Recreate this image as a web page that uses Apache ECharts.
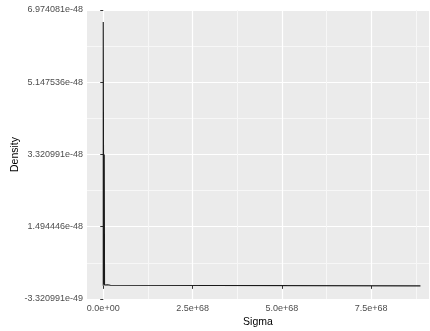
<!DOCTYPE html>
<html>
<head>
<meta charset="utf-8">
<script src="https://cdn.jsdelivr.net/npm/echarts@6/dist/echarts.min.js"></script>
<style>html,body{margin:0;padding:0;background:#fff}#c{width:430px;height:331px}</style>
</head>
<body>
<div id="c"></div>
<script>
// Data
const sigma   = [0, 0, 1.4e66, 2.8e66, 3.6e66, 6e66, 8e66, 1.2e67, 1.5e67, 2.0e67, 2.5e67, 8.88e68];
const density = [0, 6.67e-48, 5e-50, 3.32e-48, 2e-50, 2e-50, 0, 3e-50, 0, 1.5e-50, 0, 0];

const yTicks = [-3.320991e-49, 1.494446e-48, 3.320991e-48, 5.147536e-48, 6.974081e-48];
const yTickLabels = ['-3.320991e-49', '1.494446e-48', '3.320991e-48', '5.147536e-48', '6.974081e-48'];
const yMinor = [5.81174e-49, 2.4077185e-48, 4.2342635e-48, 6.0608085e-48];
const xTicks = [0, 2.5e68, 5.0e68, 7.5e68];
const xTickLabels = ['0.0e+00', '2.5e+68', '5.0e+68', '7.5e+68'];
const xMinor = [1.25e68, 3.75e68, 6.25e68, 8.75e68];

const xMin = -4.55e67, xMax = 9.12e68;
const yMin = -3.320991e-49, yMax = 6.974081e-48;

function labelFor(ticks, labels) {
  return function (v) {
    let best = 0, bd = Infinity;
    ticks.forEach((t, i) => { const d = Math.abs(t - v); if (d < bd) { bd = d; best = i; } });
    return labels[best];
  };
}

const font = 'Liberation Sans, Arial, sans-serif';
const chart = echarts.init(document.getElementById('c'), null, {renderer: 'canvas'});
chart.setOption({
  animation: false,
  backgroundColor: '#ffffff',
  grid: {left: 87, right: 1, top: 10, bottom: 32, show: true, backgroundColor: '#EBEBEB', borderWidth: 0,
         containLabel: false, outerBoundsMode: 'none'},
  xAxis: [
    {
      type: 'value', min: xMin, max: xMax, position: 'bottom',
      axisLine: {show: false},
      axisTick: {show: true, length: 3, lineStyle: {color: '#333333', width: 1}, customValues: xTicks},
      axisLabel: {show: true, customValues: xTicks, formatter: labelFor(xTicks, xTickLabels), color: '#4D4D4D', fontSize: 9, fontFamily: font, margin: 5},
      splitLine: {show: true, lineStyle: {color: '#ffffff', width: 1.2}},
      name: 'Sigma', nameLocation: 'middle', nameGap: 18, nameMoveOverlap: false,
      nameTextStyle: {color: '#000000', fontSize: 10.5, fontFamily: font, verticalAlign: 'top'}
    },
    {
      type: 'value', min: xMin, max: xMax, position: 'bottom',
      axisLine: {show: false},
      axisTick: {show: false, customValues: xMinor},
      axisLabel: {show: false, customValues: xMinor},
      splitLine: {show: true, lineStyle: {color: '#F7F7F7', width: 1}}
    }
  ],
  yAxis: [
    {
      type: 'value', min: yMin, max: yMax,
      axisLine: {show: false},
      axisTick: {show: true, length: 3, lineStyle: {color: '#333333', width: 1}, customValues: yTicks},
      axisLabel: {show: true, customValues: yTicks, formatter: labelFor(yTicks, yTickLabels), color: '#4D4D4D', fontSize: 9, fontFamily: font, margin: 4},
      splitLine: {show: true, lineStyle: {color: '#ffffff', width: 1.2}},
      name: 'Density', nameLocation: 'middle', nameGap: 72, nameRotate: 90, nameMoveOverlap: false,
      nameTextStyle: {color: '#000000', fontSize: 10.5, fontFamily: font, verticalAlign: 'middle'}
    },
    {
      type: 'value', min: yMin, max: yMax, position: 'left',
      axisLine: {show: false},
      axisTick: {show: false, customValues: yMinor},
      axisLabel: {show: false, customValues: yMinor},
      splitLine: {show: true, lineStyle: {color: '#F7F7F7', width: 1}}
    }
  ],
  series: [{
    type: 'line',
    xAxisIndex: 0, yAxisIndex: 0,
    data: sigma.map((s, i) => [s, density[i]]),
    showSymbol: false, symbol: 'none',
    lineStyle: {color: '#1a1a1a', width: 1.1},
    z: 10
  }]
});
</script>
</body>
</html>
